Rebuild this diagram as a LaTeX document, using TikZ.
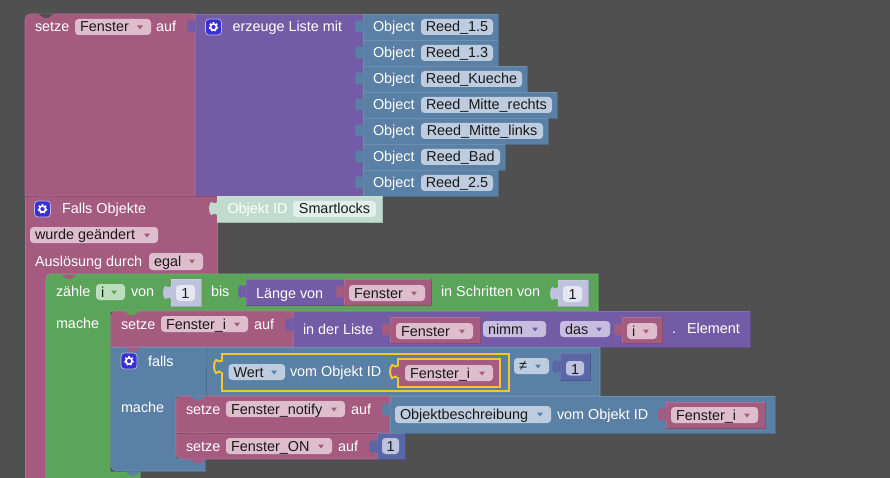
\documentclass[tikz,border=0pt]{standalone}
\usepackage{fontspec}
\setmainfont{Liberation Sans}
\definecolor{bgc}{HTML}{505050}
\definecolor{pink}{HTML}{A55B80}
\definecolor{purp}{HTML}{745BA5}
\definecolor{blu}{HTML}{5B80A5}
\definecolor{grn}{HTML}{5BA55B}
\definecolor{numc}{HTML}{5B67A5}
\definecolor{shnum}{HTML}{BEC2DC}
\definecolor{shobj}{HTML}{C0DCD0}
\definecolor{fpink}{HTML}{DEBDCD}
\definecolor{fblu}{HTML}{BDCCDE}
\definecolor{fpurp}{HTML}{C7BDDE}
\definecolor{fgrn}{HTML}{BDDEBD}
\definecolor{fnum}{HTML}{BDC2DE}
\definecolor{fshnum}{HTML}{E5E7F1}
\definecolor{fshobj}{HTML}{E3EFEA}
\definecolor{yel}{HTML}{F9C52C}
\definecolor{gearc}{HTML}{3A2FD0}
\newcount\nn
\newcommand{\nxt}{\global\advance\nn by 1\relax}
\tikzset{
  x=1pt,y=-1pt,
  lbl/.style={anchor=base west,inner sep=0pt,outer sep=0pt,font=\fontsize{14.4}{16}\selectfont,text=white},
  lbld/.style={lbl,text=black!90},
  edge/.style={line width=0.6pt},
}
\newcommand{\blk}[5]{%
  \fill[#1] (#2,#3) rectangle (#4,#5);
  \draw[edge,#1!85!black] (#2,#5) -- (#4,#5) -- (#4,#3);
  \draw[edge,#1!88!white] (#2,#5) -- (#2,#3) -- (#4,#3);
}
\newcommand{\poly}[2]{%
  \filldraw[edge,fill=#1,draw=#1!88!white] #2;
}
% puzzle tab: a head at the far left, a pinched neck, flaring into the block
\newcommand{\ptab}[3]{%
  \fill[#1] (#2+0.6,#3-0.5) .. controls (#2-2,#3+2.5) and (#2-3.5,#3+1) .. (#2-6,#3)
   .. controls (#2-8.6,#3+3) and (#2-8.6,#3+10) .. (#2-6,#3+13)
   .. controls (#2-3.5,#3+12) and (#2-2,#3+10.5) .. (#2+0.6,#3+13.5) -- cycle;
}
\newcommand{\notch}[3]{%
  \fill[#1] (#2-9,#3) .. controls (#2-5,#3) and (#2-5,#3+4.5) .. (#2,#3+4.5)
    .. controls (#2+5,#3+4.5) and (#2+5,#3) .. (#2+9,#3) -- cycle;
}
\newcommand{\txt}[3]{\nxt\node[lbl] (n\the\nn) at (#1,#2) {#3};}
\newcommand{\fld}[7]{%
  \fill[#1,rounded corners=3.5pt] (#3,#4) rectangle (#5,#6);
  \nxt\node[lbld] (n\the\nn) at (#3+5,#4+13) {#7};
  \fill[#2] (#5-14,#4+6.5) -- (#5-8,#4+6.5) -- (#5-11,#4+10.5) -- cycle;
}
\newcommand{\pf}[6]{%
  \fill[#1,rounded corners=3.5pt] (#2,#3) rectangle (#4,#5);
  \nxt\node[lbld,anchor=base] (n\the\nn) at ({(#2+#4)/2},#3+13) {#6};
}
\newcommand{\gear}[3]{%
  \filldraw[line width=0.7pt,fill=#3,draw=white!65!#3,rounded corners=3.5pt] (#1,#2) rectangle (#1+16,#2+16);
  \draw[white,line width=1.6pt] (#1+8,#2+8) circle (3.1);
  \draw[white,line width=1.5pt,dash pattern=on 1.6pt off 2.1pt] (#1+8,#2+8) circle (4.2);
}
\newcommand{\pinkF}[5]{\fld{fpink}{pink}{#1}{#2}{#3}{#4}{#5}}
% yellow-outlined puzzle tab
\newcommand{\ytab}[3]{%
  \filldraw[line width=2pt,draw=yel,fill=#1] (#2+0.5,#3) .. controls (#2-2,#3+2.5) and (#2-3.5,#3+1) .. (#2-6,#3)
   .. controls (#2-8.6,#3+3) and (#2-8.6,#3+10) .. (#2-6,#3+13)
   .. controls (#2-3.5,#3+12) and (#2-2,#3+10.5) .. (#2+0.5,#3+13);
  \fill[#1] (#2-1,#3+1.5) rectangle (#2+2,#3+11.5);
}
\begin{document}
\begin{tikzpicture}
\fill[bgc] (0,0) rectangle (890,478);
\useasboundingbox (0,0) rectangle (890,478);

% --- top statement
\poly{pink}{(25,196) -- (25,20) arc[start angle=180,end angle=270,radius=6] -- (195,14) -- (195,196) -- cycle}
\notch{bgc}{46}{13.6}
\txt{35}{32}{setze}
\pinkF{75}{19}{151}{35}{Fenster}
\txt{156}{32}{auf}
\blk{purp}{195}{14}{363}{196}
\ptab{purp}{195}{20}
\gear{205.5}{19}{gearc}
\txt{232.5}{32}{erzeuge Liste mit}
\foreach \yy/\xr/\nm in {14/498/Reed\_1.5,40/498/Reed\_1.3,66/527/Reed\_Kueche,92/557/Reed\_Mitte\_rechts,118/548/Reed\_Mitte\_links,144/505/Reed\_Bad,170/498/Reed\_2.5}{
  \blk{blu}{363}{\yy}{\xr}{\yy+26}
  \ptab{blu}{363}{\yy+6}
  \txt{373}{\yy+18}{Object}
  \pf{fblu}{421}{\yy+5}{\xr-5}{\yy+21}{\nm}
}

% --- trigger block
\poly{pink}{(25,196) -- (217,196) -- (217,275) -- (46,275) -- (46,479) -- (25,479) -- cycle}
\draw[edge,pink!85!black] (25,196) -- (217,196);
\notch{pink}{46}{196.5}
\gear{34.5}{201}{gearc}
\txt{62}{214}{Falls Objekte}
\blk{shobj}{217}{196}{382}{222}
\ptab{shobj}{217}{202}
\txt{227.5}{214}{Objekt ID}
\pf{fshobj}{293}{201}{376}{217}{Smartlocks}
\fld{fpink}{pink}{30}{227}{158}{243}{wurde geändert}
\txt{35}{266}{Auslösung durch}
\pinkF{149}{253}{203}{270}{egal}

% --- green loop
\poly{grn}{(46,479) -- (46,280) arc[start angle=180,end angle=270,radius=6] -- (598,274) -- (598,311) -- (110,311) -- (110,472) -- (140,472) -- (140,479) -- cycle}
\draw[edge,grn!85!black] (598,274) -- (598,311);
\notch{pink}{69}{274.5}
\txt{56}{296}{zähle}
\fld{fgrn}{grn}{96}{284}{125}{300}{i}
\txt{131}{296}{von}
\blk{shnum}{171}{279}{201}{306}
\ptab{shnum}{171}{286}
\pf{fshnum}{176}{285}{195}{301}{1}
\txt{211}{296}{bis}
\blk{purp}{246}{279}{344}{305}
\ptab{purp}{246}{285}
\txt{256}{298}{Länge von}
\blk{pink}{344}{279}{431}{305}
\ptab{pink}{344}{285}
\pinkF{349}{285}{425}{301}{Fenster}
\txt{441}{296}{in Schritten von}
\blk{shnum}{558}{280}{588}{306}
\ptab{shnum}{558}{287}
\pf{fshnum}{563}{286}{582}{302}{1}
\txt{56}{328}{mache}

% --- setze Fenster_i
\poly{pink}{(111,347) -- (111,317) arc[start angle=180,end angle=270,radius=6] -- (293,311) -- (293,347) -- cycle}
\notch{grn}{132}{311}
\txt{121}{329}{setze}
\pinkF{161}{316}{248}{332}{Fenster\_i}
\txt{254}{329}{auf}
\blk{purp}{293}{311}{750}{347}
\ptab{purp}{293}{318}
\txt{303}{334}{in der Liste}
\blk{pink}{390}{317}{480}{343}
\ptab{pink}{390}{323}
\pinkF{396}{323}{473}{339}{Fenster}
\fld{fpurp}{purp}{483}{321}{546}{337}{nimm}
\fld{fpurp}{purp}{560}{321}{610}{337}{das}
\blk{pink}{622}{317}{662}{343}
\ptab{pink}{622}{323}
\pinkF{627}{323}{657}{339}{i}
\txt{672}{333}{.}
\txt{687}{333}{Element}

% --- falls
\poly{blu}{(111,347.5) -- (600,347.5) -- (600,396) -- (176,396) -- (176,459) -- (205.5,459) -- (205.5,471) -- (117,471) arc[start angle=90,end angle=180,radius=6] -- cycle}
\draw[edge,blu!85!black] (600,348) -- (600,396) (205.5,459) -- (205.5,471) -- (117,471);
\draw[edge,blu!85!black] (206,348) -- (206,396);
\notch{pink}{133}{347.5}
\notch{blu}{133}{471.3}
\gear{121}{353}{gearc}
\txt{148}{366}{falls}
\txt{121}{412}{mache}
\ptab{blu}{206}{354}
% highlighted getter
\filldraw[line width=2.4pt,draw=yel,fill=blu] (222,354) rectangle (509,391);
\ytab{blu}{222}{360}
\fld{fblu}{blu}{228.5}{364}{285}{380}{Wert}
\txt{290}{376}{vom Objekt ID}
\filldraw[line width=2pt,draw=yel,fill=pink] (398,359) rectangle (499.5,386.5);
\ytab{pink}{398}{365}
\pinkF{405}{365}{493}{381}{Fenster\_i}
\fld{fblu}{blu}{514}{358}{549}{374}{\raisebox{0.5pt}{≠}}
\blk{numc}{560}{353}{590}{380}
\ptab{numc}{560}{360}
\pf{fnum}{566}{361}{584}{375.5}{1}

% --- setze Fenster_notify
\poly{pink}{(176,433) -- (176,402) arc[start angle=180,end angle=270,radius=6] -- (390,396) -- (390,433) -- cycle}
\notch{blu}{198}{396}
\txt{186}{414}{setze}
\pinkF{226}{401}{345}{417}{Fenster\_notify}
\txt{351}{414}{auf}
\blk{blu}{390}{396}{775}{433}
\ptab{blu}{390}{403}
\fld{fblu}{blu}{395}{406}{551}{423}{Objektbeschreibung}
\txt{557}{419}{vom Objekt ID}
\blk{pink}{666}{402}{765}{428}
\ptab{pink}{666}{408}
\pinkF{671}{407}{758}{423}{Fenster\_i}

% --- setze Fenster_ON
\poly{pink}{(176,433) -- (378,433) -- (378,459) -- (182,459) arc[start angle=90,end angle=180,radius=6] -- cycle}
\draw[edge,pink!85!black] (176,433) -- (378,433);
\notch{pink}{198}{433.5}
\notch{pink}{198}{459.3}
\txt{186}{451}{setze}
\pinkF{226}{438}{332}{454}{Fenster\_ON}
\txt{338}{451}{auf}
\blk{numc}{377}{433}{405}{459}
\ptab{numc}{377}{440}
\pf{fnum}{382}{438}{399}{454}{1}
\end{tikzpicture}
\end{document}
